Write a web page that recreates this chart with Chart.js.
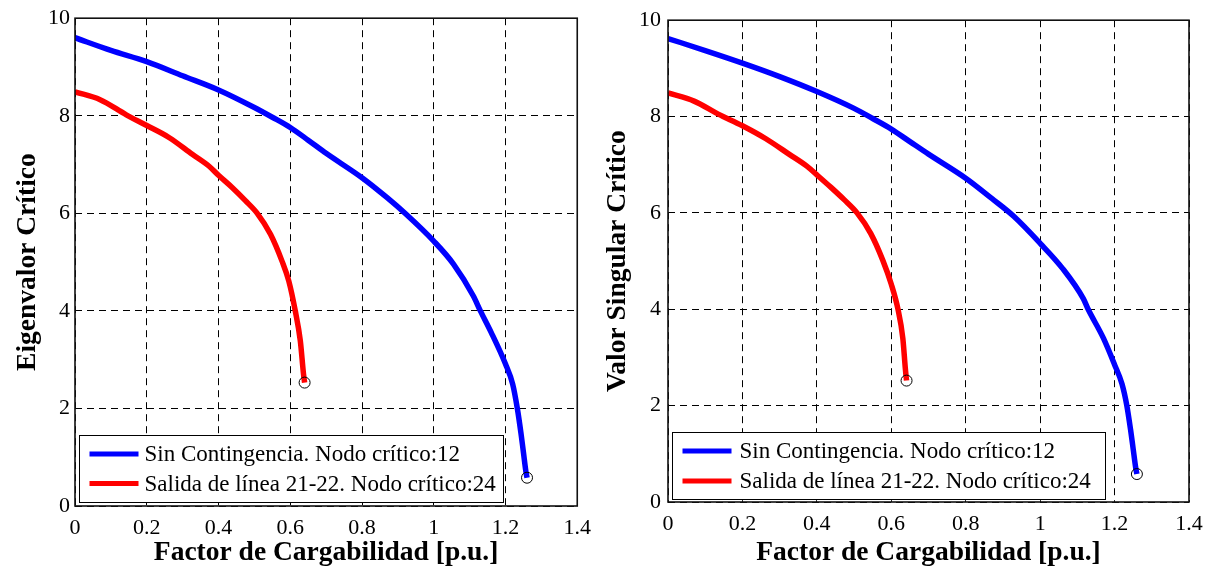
<!DOCTYPE html>
<html>
<head>
<meta charset="utf-8">
<script src="https://cdn.jsdelivr.net/npm/chart.js@4.4.0/dist/chart.umd.min.js"></script>
<style>
    html, body { margin: 0; padding: 0; background: #fff; }
    #wrap { position: relative; width: 1212px; height: 569px; }
    canvas { position: absolute; top: 0; }
    #left { left: 0; }
    #right { left: 600px; }
</style>
</head>
<body>
<div id="wrap">
    <canvas id="left" width="600" height="569"></canvas>
    <canvas id="right" width="612" height="569"></canvas>
</div>
<script>
// Axis ticks
const xTicks = [0, 0.2, 0.4, 0.6, 0.8, 1, 1.2, 1.4];
const yTicks = [0, 2, 4, 6, 8, 10];

const seriesLabels = ['Sin Contingencia. Nodo crítico:12', 'Salida de línea 21-22. Nodo crítico:24'];

// Left chart: Eigenvalor crítico
const eigBaseX = [0, 0.1, 0.2, 0.3, 0.4, 0.5, 0.55, 0.6, 0.65, 0.7, 0.8, 0.87, 0.92, 1.0, 1.055, 1.11, 1.13, 1.16, 1.2, 1.22, 1.233, 1.243, 1.25, 1.257, 1.26];
const eigBaseY = [9.6, 9.34, 9.11, 8.82, 8.53, 8.17, 7.97, 7.76, 7.5, 7.23, 6.73, 6.32, 6.0, 5.43, 4.96, 4.31, 4.0, 3.56, 2.91, 2.5, 2.0, 1.5, 1.1, 0.7, 0.58];
const eigContX = [0, 0.07, 0.143, 0.2, 0.263, 0.327, 0.373, 0.4, 0.438, 0.475, 0.508, 0.545, 0.577, 0.596, 0.614, 0.628, 0.637, 0.64];
const eigContY = [8.49, 8.33, 8.02, 7.8, 7.55, 7.21, 6.97, 6.78, 6.53, 6.26, 6.0, 5.57, 5.02, 4.61, 4.0, 3.39, 2.7, 2.53];

// Right chart: Valor singular crítico
const svBaseX = [0, 0.1, 0.2, 0.3, 0.4, 0.5, 0.55, 0.6, 0.65, 0.7, 0.8, 0.87, 0.929, 1.0, 1.06, 1.116, 1.129, 1.17, 1.2, 1.22, 1.233, 1.243, 1.25, 1.257, 1.26];
const svBaseY = [9.62, 9.37, 9.11, 8.83, 8.52, 8.17, 7.96, 7.74, 7.48, 7.22, 6.72, 6.3, 5.93, 5.37, 4.85, 4.22, 4.0, 3.4, 2.85, 2.45, 2.0, 1.5, 1.1, 0.7, 0.58];
const svContX = [0, 0.07, 0.135, 0.2, 0.263, 0.327, 0.373, 0.4, 0.438, 0.474, 0.508, 0.545, 0.577, 0.6, 0.618, 0.631, 0.638, 0.641];
const svContY = [8.49, 8.32, 8.05, 7.81, 7.54, 7.21, 6.97, 6.79, 6.53, 6.27, 6.0, 5.57, 5.02, 4.52, 4.0, 3.4, 2.75, 2.52];

const FONT = '"Liberation Serif", "Times New Roman", serif';

function toPoints(xs, ys) {
    return xs.map((x, i) => ({ x: x, y: ys[i] }));
}

// box round the plot area
const frame = {
    id: 'frame',
    afterDatasetsDraw(chart) {
        const { ctx, chartArea } = chart;
        ctx.save();
        ctx.strokeStyle = '#111';
        ctx.lineWidth = 1.6;
        ctx.strokeRect(chartArea.left, chartArea.top, chartArea.right - chartArea.left, chartArea.bottom - chartArea.top);
        ctx.restore();
    }
};

// legend drawn inside the plot, lower left
const legendBox = {
    id: 'legendBox',
    afterDraw(chart, args, opts) {
        const { ctx, chartArea } = chart;
        const items = chart.data.datasets.filter(d => d.label);
        ctx.save();
        ctx.font = '23px ' + FONT;
        const textW = Math.max(...items.map(d => ctx.measureText(d.label).width));
        const x0 = Math.round(chartArea.left + opts.left) + 0.5;
        const y0 = Math.round(chartArea.bottom - opts.bottom - opts.height) + 0.5;
        const w = Math.round(opts.textOffset + textW + opts.tail);
        ctx.fillStyle = '#fff';
        ctx.fillRect(x0, y0, w, opts.height);
        ctx.strokeStyle = '#000';
        ctx.lineWidth = 1;
        ctx.strokeRect(x0, y0, w, opts.height);
        items.forEach((d, i) => {
            const y = y0 + opts.rowTop + i * opts.rowGap;
            ctx.strokeStyle = d.borderColor;
            ctx.lineWidth = 5;
            ctx.beginPath();
            ctx.moveTo(x0 + 10, y);
            ctx.lineTo(x0 + 59, y);
            ctx.stroke();
            ctx.fillStyle = '#000';
            ctx.textBaseline = 'middle';
            ctx.textAlign = 'left';
            ctx.fillText(d.label, x0 + opts.textOffset, y + 1);
        });
        ctx.restore();
    }
};

function makeDataset(label, color, xs, ys) {
    const last = xs.length - 1;
    return {
        label: label,
        data: toPoints(xs, ys),
        borderColor: color,
        backgroundColor: color,
        borderWidth: 5.5,
        cubicInterpolationMode: 'monotone',
        pointRadius: ctx => ctx.dataIndex === last ? 5.5 : 0,
        pointBorderColor: '#000',
        pointBackgroundColor: 'rgba(0,0,0,0)',
        pointBorderWidth: 1,
        pointHoverRadius: 0
    };
}

function makeChart(id, yTitle, series, geo) {
    const ctx = document.getElementById(id).getContext('2d');
    return new Chart(ctx, {
        type: 'line',
        data: {
            datasets: [
                makeDataset(seriesLabels[0], '#0000ff', series[0], series[1]),
                makeDataset(seriesLabels[1], '#ff0000', series[2], series[3])
            ]
        },
        options: {
            responsive: false,
            animation: false,
            devicePixelRatio: 1,
            layout: { padding: { top: geo.top, right: geo.right, left: 0, bottom: 0 } },
            plugins: {
                legend: { display: false },
                tooltip: { enabled: false },
                legendBox: geo.legend
            },
            scales: {
                x: {
                    type: 'linear',
                    min: 0,
                    max: 1.4,
                    afterBuildTicks: scale => { scale.ticks = xTicks.map(v => ({ value: v })); },
                    afterFit: scale => { scale.height = geo.xHeight; },
                    grid: { color: '#000', lineWidth: 1, drawTicks: false },
                    border: { display: false, dash: [7, 5] },
                    ticks: {
                        color: '#000',
                        padding: 9,
                        maxRotation: 0,
                        font: { family: FONT, size: 22 },
                        callback: v => String(v)
                    },
                    title: {
                        display: true,
                        text: 'Factor de Cargabilidad [p.u.]',
                        color: '#000',
                        font: { family: FONT, size: 27.5, weight: 'bold' },
                        padding: { top: 0, bottom: 0 }
                    }
                },
                y: {
                    min: 0,
                    max: 10,
                    afterBuildTicks: scale => { scale.ticks = yTicks.map(v => ({ value: v })); },
                    afterFit: scale => { scale.width = geo.yWidth; },
                    grid: { color: '#000', lineWidth: 1, drawTicks: false },
                    border: { display: false, dash: [7, 5] },
                    ticks: {
                        color: '#000',
                        padding: geo.yTickPad,
                        font: { family: FONT, size: 22 },
                        callback: v => String(v)
                    },
                    title: {
                        display: true,
                        text: yTitle,
                        color: '#000',
                        font: { family: FONT, size: 27.5, weight: 'bold' },
                        padding: { top: geo.yTitlePad, bottom: 0 }
                    }
                }
            }
        },
        plugins: [frame, legendBox]
    });
}

makeChart('left', 'Eigenvalor Crítico', [eigBaseX, eigBaseY, eigContX, eigContY], {
    top: 16, right: 19, xHeight: 63, yWidth: 75, yTitlePad: 11, yTickPad: 5,
    legend: { left: 3.5, bottom: 4, height: 67, rowTop: 18.5, rowGap: 29.5, textOffset: 65, tail: 8 }
});

makeChart('right', 'Valor Singular Crítico', [svBaseX, svBaseY, svContX, svContY], {
    top: 15.5, right: 23, xHeight: 67, yWidth: 68, yTitlePad: 1.5, yTickPad: 7,
    legend: { left: 4, bottom: 3, height: 67, rowTop: 18.5, rowGap: 30, textOffset: 67, tail: 15 }
});
</script>
</body>
</html>
